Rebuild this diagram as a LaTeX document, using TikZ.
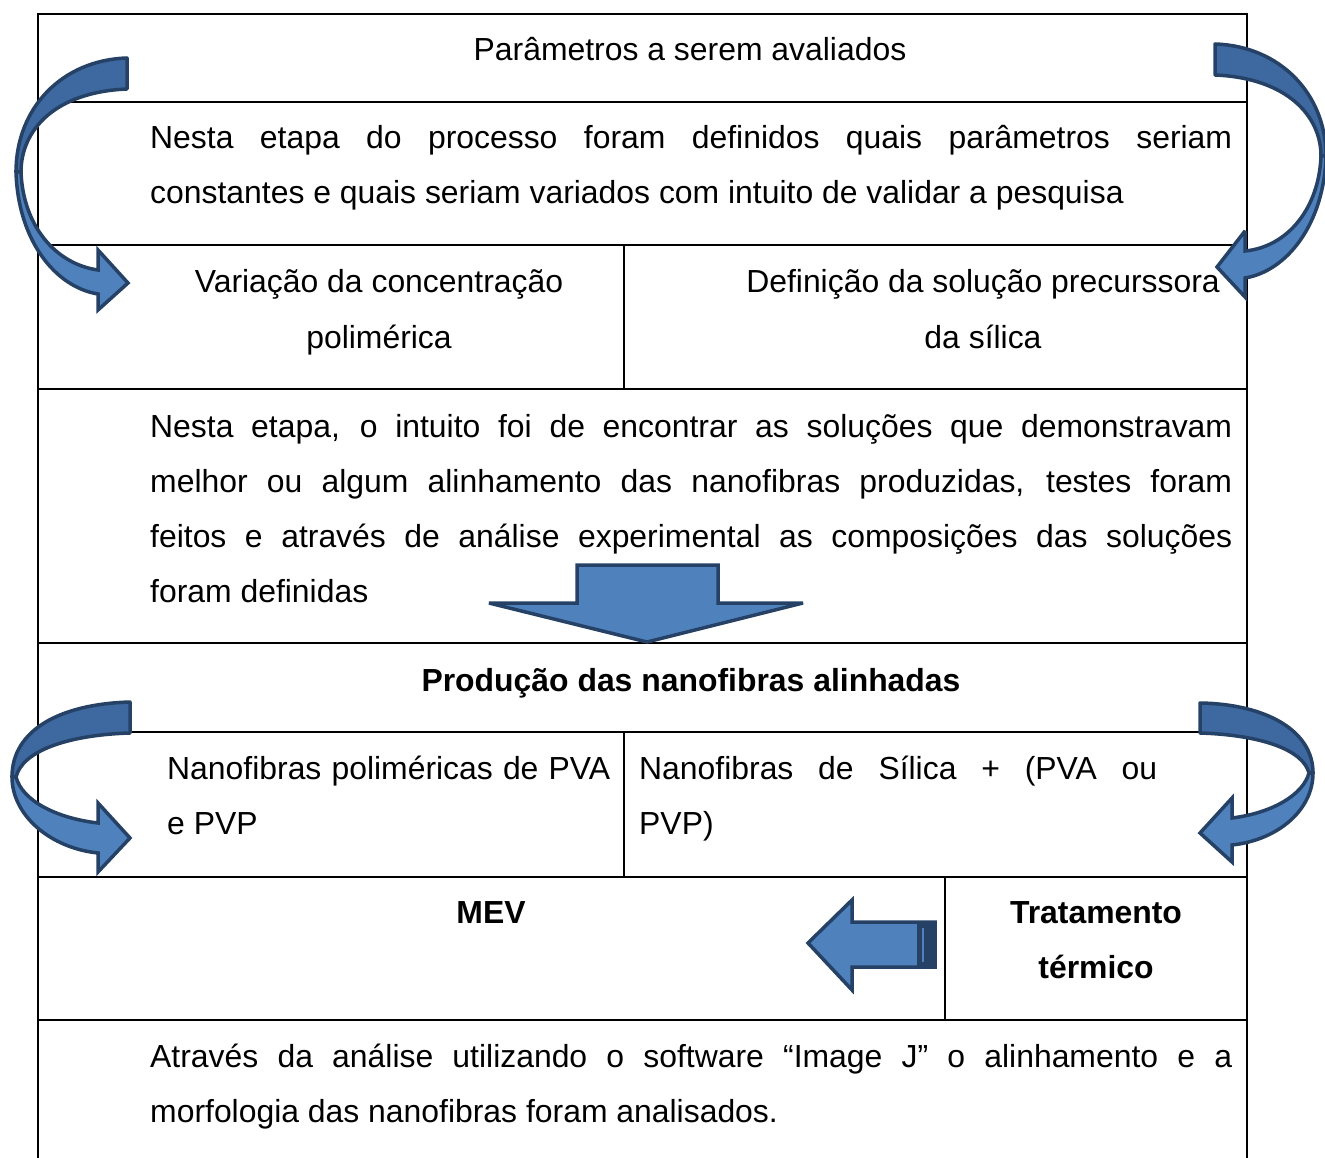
\documentclass[tikz,border=0pt]{standalone}
\usepackage{fontspec}
\setmainfont{Liberation Sans}
\definecolor{setaazul}{HTML}{4F81BD}
\definecolor{setaescura}{HTML}{3D68A0}
\definecolor{setaborda}{HTML}{254266}
\tikzset{
  grade/.style={line width=2.5pt, black},
  texto/.style={inner sep=0pt, anchor=base, font=\fontsize{31.9}{55}\selectfont},
  esquerda/.style={texto, anchor=base west},
  fundo/.style={fill=setaescura, draw=setaborda, line width=3.5pt, line join=round},
  frente/.style={fill=setaazul, draw=setaborda, line width=3.5pt, line join=miter, miter limit=3},
}
\begin{document}
\begin{tikzpicture}[x=1pt,y=-1pt]
  \useasboundingbox (0,0) rectangle (1325,1158);
  % tabela
  \draw[grade] (38,1158) -- (38,14) -- (1247,14) -- (1247,1158);
  \foreach \y in {102,245,389,643,732,877,1020}
    \draw[grade] (38,\y) -- (1247,\y);
  \draw[grade] (624,245) -- (624,389);
  \draw[grade] (624,732) -- (624,877);
  \draw[grade] (945,877) -- (945,1020);

  % textos
  \node[texto] (titulo) at (690,61) {Parâmetros a serem avaliados};
  \node[esquerda] (etapa1) at (150,149) {\parbox[t]{1082pt}{%
    \makebox[\linewidth][s]{Nesta etapa do processo foram definidos quais parâmetros seriam}\\
    constantes e quais seriam variados com intuito de validar a pesquisa}};
  \node[texto] (varconc) at (379,293) {\parbox[t]{560pt}{\centering
    Variação da concentração\\ polimérica}};
  \node[texto] (defsol) at (983,293) {\parbox[t]{560pt}{\centering
    Definição da solução precurssora\\ da sílica}};
  \node[esquerda] (etapa2) at (150,437) {\parbox[t]{1082pt}{%
    \makebox[\linewidth][s]{Nesta etapa, o intuito foi de encontrar as soluções que demonstravam}\\
    \makebox[\linewidth][s]{melhor ou algum alinhamento das nanofibras produzidas, testes foram}\\
    \makebox[\linewidth][s]{feitos e através de análise experimental as composições das soluções}\\
    foram definidas}};
  \node[texto] (producao) at (691,691) {\bfseries Produção das nanofibras alinhadas};
  \node[esquerda] (nfpol) at (167,779) {\parbox[t]{443pt}{%
    \makebox[\linewidth][s]{Nanofibras poliméricas de PVA}\\ e PVP}};
  \node[esquerda] (nfsil) at (639,779) {\parbox[t]{518pt}{%
    \makebox[\linewidth][s]{Nanofibras de Sílica + (PVA ou}\\ PVP)}};
  \node[texto] (mev) at (491,923) {\bfseries MEV};
  \node[texto] (tratamento) at (1096,923) {\parbox[t]{300pt}{\centering\bfseries
    Tratamento\\ térmico}};
  \node[esquerda] (analise) at (150,1067) {\parbox[t]{1082pt}{%
    \makebox[\linewidth][s]{Através da análise utilizando o software “Image J” o alinhamento e a}\\
    morfologia das nanofibras foram analisados.}};

  % seta curva superior esquerda
  \draw[fundo] (127,58) .. controls (62,60) and (16,108) .. (16,172)
    -- (21,172) .. controls (21,130) and (55,92) .. (127,89) -- cycle;
  \draw[frente] (16,172) .. controls (18,240) and (55,287) .. (98,294)
    -- (98,310) -- (128,283) -- (98,250) -- (98,270)
    .. controls (55,264) and (23,225) .. (21,172) -- cycle;

  % seta curva superior direita
  \draw[fundo] (1215,44) .. controls (1280,46) and (1326,94) .. (1326,156)
    -- (1321,156) .. controls (1321,116) and (1287,78) .. (1215,75) -- cycle;
  \draw[frente] (1326,156) .. controls (1324,224) and (1287,271) .. (1245,278)
    -- (1245,297) -- (1217,267) -- (1245,231) -- (1245,251)
    .. controls (1287,247) and (1319,209) .. (1321,156) -- cycle;

  % seta para baixo
  \draw[frente] (577,565) -- (718,565) -- (718,603) -- (803,603) -- (647,642)
    -- (489,603) -- (577,603) -- cycle;

  % seta curva inferior esquerda
  \draw[fundo] (130,702) .. controls (60,704) and (12,730) .. (12,777)
    -- (16,777) .. controls (22,752) and (65,735) .. (130,733) -- cycle;
  \draw[frente] (12,777) .. controls (12,815) and (50,848) .. (98,853)
    -- (98,872) -- (130,838) -- (98,803) -- (98,823)
    .. controls (55,818) and (22,800) .. (16,777) -- cycle;

  % seta curva inferior direita
  \draw[fundo] (1200,703) .. controls (1265,704) and (1313,730) .. (1313,773)
    -- (1309,773) .. controls (1303,750) and (1262,735) .. (1200,733) -- cycle;
  \draw[frente] (1313,773) .. controls (1313,810) and (1278,840) .. (1232,845)
    -- (1232,862) -- (1200,833) -- (1232,798) -- (1232,818)
    .. controls (1272,813) and (1303,795) .. (1309,773) -- cycle;

  % seta para a esquerda
  \draw[frente] (808,943) -- (852,900) -- (852,922) -- (935,922) -- (935,967)
    -- (852,967) -- (852,990) -- cycle;
  \fill[setaborda] (917,922) rectangle (935,967);
  \draw[setaazul, line width=2pt] (923,928) -- (923,962);
\end{tikzpicture}
\end{document}
